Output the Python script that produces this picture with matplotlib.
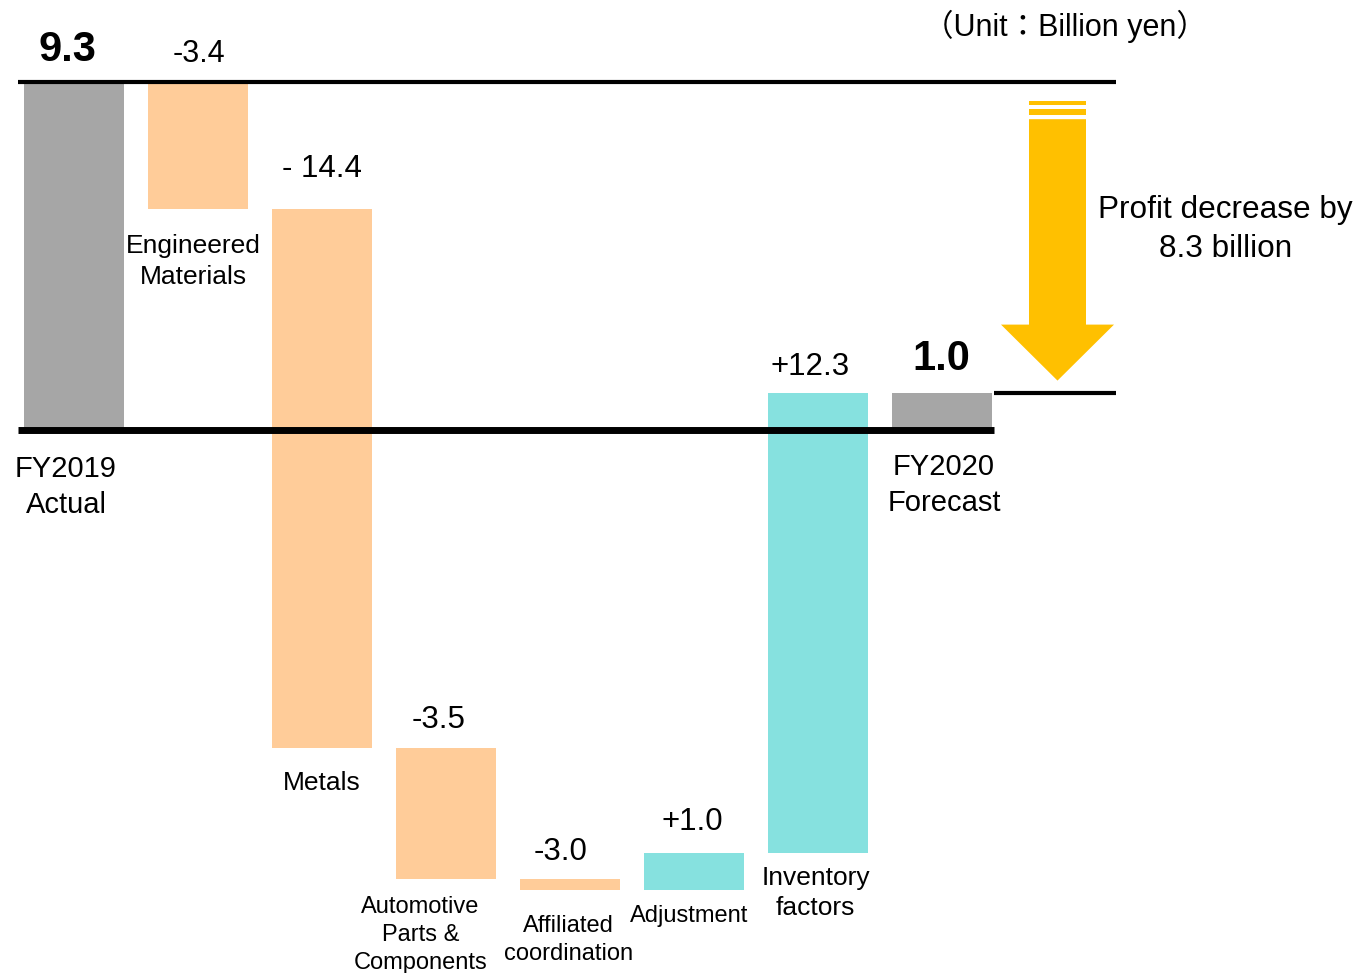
import matplotlib
matplotlib.use('Agg')
import matplotlib.pyplot as plt
from matplotlib.patches import Polygon

plt.rcParams['font.family'] = ['Liberation Sans', 'Noto Sans CJK JP', 'DejaVu Sans']

# ---------------- data ----------------
categories = ['FY2019\nActual', 'Engineered\nMaterials', 'Metals',
              'Automotive\nParts &\nComponents', 'Affiliated\ncoordination',
              'Adjustment', 'Inventory\nfactors', 'FY2020\nForecast']
start_value = 9.3
changes = [-3.4, -14.4, -3.5, -0.3, 1.0, 12.3]
end_value = 1.0
value_labels = ['9.3', '-3.4', '- 14.4', '-3.5', '-3.0', '+1.0', '+12.3', '1.0']
unit_label = '（Unit：Billion yen）'
summary_label = 'Profit decrease by\n8.3 billion'

# ---------------- styles / layout ----------------
C_TOTAL = '#A6A6A6'
C_NEG = '#FFCC99'
C_POS = '#86E1DF'
C_ARROW = '#FFC000'

W, H = 1365, 973
PXX = 124.0    # pixels per category
PXY = 37.4     # pixels per billion yen
X0_PX = 73.5   # pixel x of first bar centre
Y0_PX = 430.0  # pixel y of zero

# label offsets (pixels): value labels baseline above bar top, dx
val_dy = [21, 20, 32, 20, 19, 23, 18, 23]
val_dx = [-6.5, 1, 0, -7, -9, -1, -7.5, 0]
val_fs = [30, 22, 22.5, 22.5, 22.5, 22.5, 22.5, 30]
val_bold = [True, False, False, False, False, False, False, True]
# category labels: cap-top below bar bottom, dx
cat_dy = [25, 25, 23, 17, 25, 15, 13, 23]
cat_dx = [-7.5, -4, 0, -25, -1, -4, -2, 2.5]
cat_fs = [21, 19, 19, 17, 17, 17, 19, 21]

# ---------------- compute waterfall ----------------
bottoms, heights, colors = [], [], []
bottoms.append(0.0); heights.append(start_value); colors.append(C_TOTAL)
cum = start_value
for c in changes:
    bottoms.append(cum if c >= 0 else cum + c)
    heights.append(abs(c))
    colors.append(C_POS if c >= 0 else C_NEG)
    cum += c
bottoms.append(0.0); heights.append(end_value); colors.append(C_TOTAL)
xs = list(range(len(categories)))

fig = plt.figure(figsize=(W / 100, H / 100), dpi=100)
ax = fig.add_axes([0, 0, 1, 1])
ax.axis('off')
ax.set_xlim(-X0_PX / PXX, (W - X0_PX) / PXX)
ax.set_ylim(-(H - Y0_PX) / PXY, Y0_PX / PXY)

bw = 100 / PXX
ax.bar(xs, heights, bottom=bottoms, width=bw, color=colors, zorder=2)

# horizontal reference lines
left = -0.448
last_right = xs[-1] + bw / 2 + 2 / PXX
right = (1116 - X0_PX) / PXX
ax.plot([left, right], [start_value, start_value], color='black', lw=3,
        solid_capstyle='butt', zorder=3)
ax.plot([left, last_right], [0, 0], color='black', lw=5,
        solid_capstyle='butt', zorder=3)
ax.plot([last_right, right], [end_value, end_value], color='black', lw=3,
        solid_capstyle='butt', zorder=3)

# big yellow arrow
acx = (1057.5 - X0_PX) / PXX
shaft_hw = 28.5 / PXX
head_hw = 56.5 / PXX
shaft_top = start_value - 37 / PXY
head_top = end_value + 68 / PXY
tip = end_value + 12 / PXY
arrow = Polygon([(acx - shaft_hw, shaft_top), (acx + shaft_hw, shaft_top),
                 (acx + shaft_hw, head_top), (acx + head_hw, head_top),
                 (acx, tip), (acx - head_hw, head_top),
                 (acx - shaft_hw, head_top)], closed=True,
                facecolor=C_ARROW, edgecolor='none', zorder=2)
ax.add_patch(arrow)
for t_px, b_px in [(19, 23), (26.7, 33)]:
    y1 = start_value - t_px / PXY
    y2 = start_value - b_px / PXY
    ax.fill_between([acx - shaft_hw, acx + shaft_hw], y2, y1,
                    color=C_ARROW, lw=0, zorder=2)

# value labels
for i in xs:
    top = bottoms[i] + heights[i]
    ax.annotate(value_labels[i], xy=(i, top), xytext=(val_dx[i], val_dy[i]),
                textcoords='offset pixels', ha='center', va='baseline',
                fontsize=val_fs[i],
                fontweight='bold' if val_bold[i] else 'normal', zorder=4)

# category labels
for i in xs:
    ax.annotate(categories[i], xy=(i, bottoms[i]), xytext=(cat_dx[i], -cat_dy[i]),
                textcoords='offset pixels', ha='center', va='top',
                fontsize=cat_fs[i], linespacing=1.35, zorder=4)

# summary text & unit
ax.text((1225.5 - X0_PX) / PXX, (Y0_PX - 195) / PXY, summary_label,
        ha='center', va='top', fontsize=22.7, linespacing=1.38)
fig.text(1065 / W, 1 - 10 / H, unit_label, ha='center', va='top', fontsize=22)

fig.savefig('out.png', dpi=100)
